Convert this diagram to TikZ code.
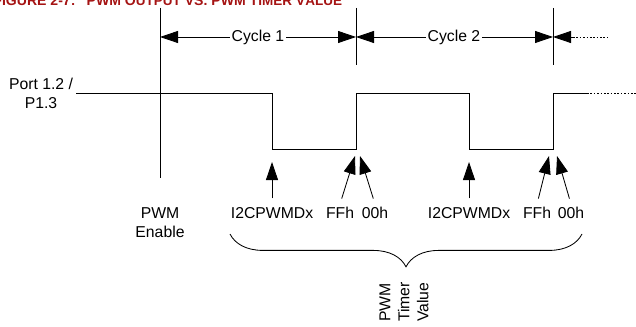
\documentclass[tikz,border=0pt]{standalone}
\usepackage{fontspec}
\setmainfont{Liberation Sans}
\usetikzlibrary{arrows.meta,positioning,calc,decorations.pathreplacing}
\definecolor{capred}{RGB}{165,20,20}
\newcommand{\sm}[1]{{\fontsize{9.6}{10}\selectfont #1}}

\begin{document}
\begin{tikzpicture}[x=0.025cm,y=-0.025cm,>={Triangle[length=4.5mm,width=3mm]},
  font=\fontsize{11.2}{13.5}\selectfont,line width=0.6pt,
  lbl/.style={inner sep=2pt,align=center},
  cyc/.style={inner sep=1pt},
  dots/.style={dash pattern=on 1.2pt off 1.2pt},
  ptr/.style={->,shorten <=4pt},
  capt/.style={anchor=base west,inner sep=0pt,text=capred,font=\bfseries\fontsize{10}{12}\selectfont}]

  \useasboundingbox (0,0) rectangle (636,327);

  % caption, cut off by the page edge
  \node[capt] (cap) at (-7,6) {FIGURE 2-7:\hspace{0.8em}PWM O\sm{UTPUT} VS. PWM T\sm{IMER} V\sm{ALUE}};

  % enable line and cycle marks
  \draw (160,8) -- (160,178);
  \foreach \x in {356,553}
    \draw (\x,8) -- (\x,65);
  \coordinate (m0) at (160,37);
  \coordinate (m1) at (356,37);
  \coordinate (m2) at (553,37);
  \coordinate (m3) at (573,37);
  \coordinate (m4) at (610,37);
  \node[cyc] (c1) at (258,37) {Cycle 1};
  \node[cyc] (c2) at (454,37) {Cycle 2};
  \draw[->] (c1) -- (m0);
  \draw[->] (c1) -- (m1);
  \draw[->] (c2) -- (m1);
  \draw[->] (c2) -- (m2);
  \draw[->] (m3) -- (m2);
  \draw[dots] (m3) -- (m4);

  % port output
  \node[lbl] (port) at (41,93) {Port 1.2 /\\P1.3};
  \coordinate (fall1) at (272,149);
  \coordinate (rise1) at (356,93);
  \coordinate (fall2) at (469,149);
  \coordinate (rise2) at (553,93);
  \coordinate (hi) at (587,93);
  \coordinate (hiend) at (636,93);
  \draw (port.east) -| (fall1) -| (rise1) -| (fall2) -| (rise2) -- (hi);
  \draw[dots] (hi) -- (hiend);

  % timer values
  \node[lbl,anchor=north] (en) at (160,204) {PWM\\Enable};
  \node[lbl,anchor=north] (d1) at (272,204) {I2CPWMDx};
  \node[lbl,anchor=north] (ff1) at (340,204) {FFh};
  \node[lbl,anchor=north] (z1) at (375,204) {00h};
  \node[lbl,anchor=north] (d2) at (469,204) {I2CPWMDx};
  \node[lbl,anchor=north] (ff2) at (537,204) {FFh};
  \node[lbl,anchor=north] (z2) at (571,204) {00h};
  \coordinate (p1) at (272,162);
  \coordinate (p2) at (355,156);
  \coordinate (p3) at (360,156);
  \coordinate (p4) at (469,162);
  \coordinate (p5) at (549,156);
  \coordinate (p6) at (557,156);
  \draw[ptr] (d1.north) -- (p1);
  \draw[ptr] (ff1.north) -- (p2);
  \draw[ptr] (z1.north) -- (p3);
  \draw[ptr] (d2.north) -- (p4);
  \draw[ptr] (ff2.north) -- (p5);
  \draw[ptr] (z2.north) -- (p6);

  % brace
  \coordinate (bl) at (230,234);
  \coordinate (br) at (582,234);
  \draw[decorate,decoration={brace,mirror,amplitude=0.82cm}] (bl) -- (br);
  \node[lbl,rotate=90,anchor=west,align=left] (tv) at (404,325) {PWM\\Timer\\Value};
\end{tikzpicture}
\end{document}
